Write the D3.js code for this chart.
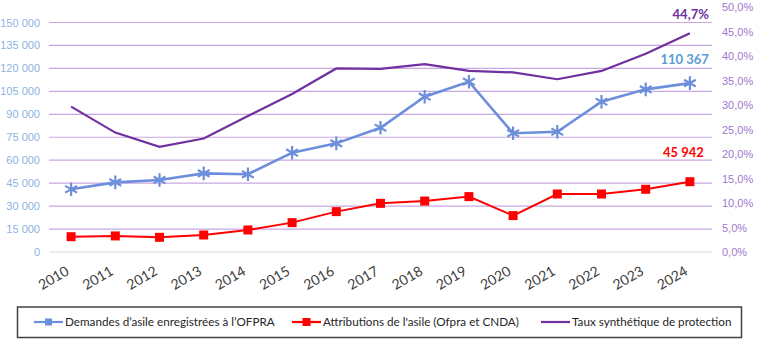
<!DOCTYPE html>
<html>
<head>
<meta charset="utf-8">
<script src="https://cdn.jsdelivr.net/npm/d3@7"></script>
<style>
  body { margin: 0; background: #fff; }
  svg { font-family: Lato, "Open Sans", sans-serif; }
</style>
</head>
<body>
<div id="wrapper"></div>
<script>
// séries annuelles
const annees = ["2010","2011","2012","2013","2014","2015","2016","2017","2018","2019","2020","2021","2022","2023","2024"];
const demandes = [41000, 45500, 47100, 51400, 50800, 64900, 71000, 81200, 101500, 111300, 77600, 78600, 98200, 106300, 110367];
const attributions = [10000, 10500, 9600, 11100, 14400, 19200, 26400, 31800, 33300, 36200, 23800, 37900, 37900, 41000, 45942];
const taux = [0.297, 0.244, 0.215, 0.232, 0.278, 0.323, 0.375, 0.374, 0.384, 0.370, 0.367, 0.353, 0.370, 0.405, 0.447];
const ticksGauche = [0, 15000, 30000, 45000, 60000, 75000, 90000, 105000, 120000, 135000, 150000];
const ticksDroite = [0, 0.05, 0.10, 0.15, 0.20, 0.25, 0.30, 0.35, 0.40, 0.45, 0.50];

const legende = [
  { nom: "Demandes d\u2019asile enregistrées à l\u2019OFPRA", couleur: "#6d8fdb", marque: "etoile", x: 34 },
  { nom: "Attributions de l'asile (Ofpra et CNDA)", couleur: "#ff0000", marque: "carre", x: 292 },
  { nom: "Taux synthétique de protection", couleur: "#7030a0", marque: null, x: 541 }
];

const dim = { width: 760, height: 344 };

const svg = d3.select("#wrapper").append("svg")
  .attr("width", dim.width)
  .attr("height", dim.height);

const xScaler = d3.scaleBand().domain(annees).range([49, 712]);
const xc = d => xScaler(d) + xScaler.bandwidth() / 2;
const yGauche = d3.scaleLinear().domain([0, 150000]).range([252, 22.5]);
const yDroite = d3.scaleLinear().domain([0, 0.5]).range([252, 7.3]);

const fmtMilliers = d3.formatLocale({ decimal: ",", thousands: " ", grouping: [3], currency: ["", "€"] });
const fmtG = fmtMilliers.format(",.0f");
const fmtPct = v => d3.format(".1f")(v * 100).replace(".", ",") + "%";

// quadrillage
svg.append("g")
  .selectAll("line")
  .data(ticksGauche)
  .join("line")
  .attr("x1", 49).attr("x2", 712)
  .attr("y1", d => yGauche(d)).attr("y2", d => yGauche(d))
  .attr("stroke", d => d === 0 ? "#d9d9d9" : "#c8a6e2")
  .attr("stroke-width", 1.2);

// axe gauche
const axeG = svg.append("g")
  .attr("transform", "translate(40,0)")
  .call(d3.axisLeft(yGauche).tickValues(ticksGauche).tickFormat(fmtG).tickSize(0).tickPadding(0));
axeG.select(".domain").remove();
axeG.selectAll("text").attr("fill", "#8db3e2").style("font-size", "11px");

// axe droit
const axeD = svg.append("g")
  .attr("transform", "translate(722,0)")
  .call(d3.axisRight(yDroite).tickValues(ticksDroite).tickFormat(fmtPct).tickSize(0).tickPadding(0));
axeD.select(".domain").remove();
axeD.selectAll("text").attr("fill", "#9e78cc").style("font-size", "11px");

// années
svg.append("g")
  .selectAll("text")
  .data(annees)
  .join("text")
  .attr("transform", d => `translate(${xc(d) - 1},274) rotate(-30)`)
  .attr("text-anchor", "end")
  .attr("fill", "#404040")
  .style("font-size", "14px")
  .text(d => d);

// courbes
const ligneG = vals => d3.line().x((d, i) => xc(annees[i])).y(d => yGauche(d))(vals);
const ligneD = vals => d3.line().x((d, i) => xc(annees[i])).y(d => yDroite(d))(vals);

svg.append("path")
  .attr("d", ligneD(taux))
  .attr("fill", "none").attr("stroke", "#7030a0").attr("stroke-width", 2.2);

svg.append("path")
  .attr("d", ligneG(attributions))
  .attr("fill", "none").attr("stroke", "#ff0000").attr("stroke-width", 2);

svg.append("g")
  .selectAll("rect")
  .data(attributions)
  .join("rect")
  .attr("x", (d, i) => xc(annees[i]) - 4.5)
  .attr("y", d => yGauche(d) - 4.5)
  .attr("width", 9).attr("height", 9)
  .attr("fill", "#ff0000");

svg.append("path")
  .attr("d", ligneG(demandes))
  .attr("fill", "none").attr("stroke", "#6d8fdb").attr("stroke-width", 2.6);

const etoile = d3.symbol().type(d3.symbolAsterisk).size(130);
svg.append("g")
  .selectAll("path")
  .data(demandes)
  .join("path")
  .attr("transform", (d, i) => `translate(${xc(annees[i])},${yGauche(d)})`)
  .attr("d", etoile)
  .attr("fill", "none")
  .attr("stroke", "#6d8fdb")
  .attr("stroke-width", 2.2);

// valeurs 2024
const dernier = annees.length - 1;
const xFin = xc(annees[dernier]) + 19;
svg.append("text")
  .attr("x", xFin).attr("y", yDroite(taux[dernier]) - 14)
  .attr("text-anchor", "end").attr("fill", "#7030a0")
  .style("font-size", "13px").style("font-weight", "bold")
  .text(fmtPct(taux[dernier]));
svg.append("text")
  .attr("x", xFin).attr("y", yGauche(demandes[dernier]) - 19)
  .attr("text-anchor", "end").attr("fill", "#5b9bd5")
  .style("font-size", "13px").style("font-weight", "bold")
  .text(fmtG(demandes[dernier]));
svg.append("text")
  .attr("x", xFin - 5).attr("y", yGauche(attributions[dernier]) - 25)
  .attr("text-anchor", "end").attr("fill", "#ff0000")
  .style("font-size", "13px").style("font-weight", "bold")
  .text(fmtG(attributions[dernier]));

// légende
svg.append("rect")
  .attr("x", 17.5).attr("y", 307)
  .attr("width", 724).attr("height", 30.5)
  .attr("fill", "none").attr("stroke", "#404040").attr("stroke-width", 1.5);

const item = svg.append("g")
  .selectAll("g")
  .data(legende)
  .join("g")
  .attr("transform", d => `translate(${d.x},322)`);

item.append("line")
  .attr("x1", 0).attr("x2", 29)
  .attr("stroke", d => d.couleur).attr("stroke-width", 2.2);

item.filter(d => d.marque === "etoile")
  .append("rect")
  .attr("x", 11).attr("y", -3.5).attr("width", 7).attr("height", 7)
  .attr("fill", d => d.couleur);

item.filter(d => d.marque === "carre")
  .append("rect")
  .attr("x", 10.5).attr("y", -4).attr("width", 8).attr("height", 8)
  .attr("fill", d => d.couleur);

item.append("text")
  .attr("x", 31).attr("dy", "0.35em")
  .attr("fill", "#262626")
  .style("font-size", "11.7px")
  .text(d => d.nom);
</script>
</body>
</html>
